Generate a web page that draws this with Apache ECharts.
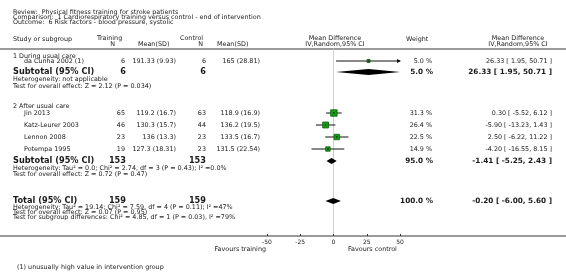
<!DOCTYPE html>
<html>
<head>
<meta charset="utf-8">
<script src="https://cdn.jsdelivr.net/npm/echarts/dist/echarts.min.js"></script>
<style>
  html, body { margin: 0; padding: 0; background: #fff; }
  #main { width: 566px; height: 272px; }
</style>
</head>
<body>
<div id="main"></div>
<script>
// study data
const studies   = ['da Cunha 2002 (1)', 'Jin 2013', 'Katz-Leurer 2003', 'Lennon 2008', 'Potempa 1995'];
const trainN    = [6, 65, 46, 23, 19];
const trainMean = ['191.33 (9.93)', '119.2 (16.7)', '130.3 (15.7)', '136 (13.3)', '127.3 (18.31)'];
const ctrlN     = [6, 63, 44, 23, 23];
const ctrlMean  = ['165 (28.81)', '118.9 (16.9)', '136.2 (19.5)', '133.5 (16.7)', '131.5 (22.54)'];
const md        = [26.33, 0.30, -5.90, 2.50, -4.20];
const lo        = [1.95, -5.52, -13.23, -6.22, -16.55];
const hi        = [50.71, 6.12, 1.43, 11.22, 8.15];
const weight    = [5.0, 31.3, 26.4, 22.5, 14.9];

// pooled estimates: subgroup 1, subgroup 2, total
const poolLabel  = ['Subtotal (95% CI)', 'Subtotal (95% CI)', 'Total (95% CI)'];
const poolTrainN = [6, 153, 159];
const poolCtrlN  = [6, 153, 159];
const poolMd     = [26.33, -1.41, -0.20];
const poolLo     = [1.95, -5.25, -6.00];
const poolHi     = [50.71, 2.43, 5.60];
const poolWeight = [5.0, 95.0, 100.0];

const xTicks = [-50, -25, 0, 25, 50];

// layout: row positions (pixels down the page)
const studyRow = [61, 113, 125, 137, 149];
const poolRow  = [72, 161, 201];

const FONT = '"DejaVu Sans", Verdana, sans-serif';
const SMALL = '6.4px ' + FONT;
const BOLD = 'bold 8.2px ' + FONT;
const BOLDNUM = 'bold 7.3px ' + FONT;
const INK = '#1a1a1a';

function txt(s, x, y, align, font) {
  return { type: 'text', silent: true, style: { text: s, x: x, y: y, fill: INK,
    font: font || SMALL, align: align || 'left', verticalAlign: 'middle' } };
}
function fmt(v) { return v.toFixed(2); }
function ciText(m, l, h) { return fmt(m) + ' [ ' + fmt(l) + ', ' + fmt(h) + ' ]'; }

const g = [];
// full width rules
g.push({ type: 'rect', silent: true, shape: { x: 0, y: 48, width: 566, height: 2 }, style: { fill: '#9a9a9a' } });
g.push({ type: 'rect', silent: true, shape: { x: 0, y: 235, width: 566, height: 2 }, style: { fill: '#9a9a9a' } });

g.push(txt('Review:  Physical fitness training for stroke patients', 13, 12));
g.push(txt('Comparison:  1 Cardiorespiratory training versus control - end of intervention', 13, 17));
g.push(txt('Outcome:  6 Risk factors - blood pressure, systolic', 13, 22));

g.push(txt('Study or subgroup', 13, 39));
g.push(txt('Training', 97, 38));
g.push(txt('N', 115, 44, 'right'));
g.push(txt('Mean(SD)', 138, 44));
g.push(txt('Control', 180, 38));
g.push(txt('N', 203, 44, 'right'));
g.push(txt('Mean(SD)', 217, 44));
g.push(txt('Mean Difference', 335, 38, 'center'));
g.push(txt('IV,Random,95% CI', 335, 44, 'center'));
g.push(txt('Weight', 406, 39));
g.push(txt('Mean Difference', 518, 38, 'center'));
g.push(txt('IV,Random,95% CI', 518, 44, 'center'));

g.push(txt('1 During usual care', 13, 56));
g.push(txt('2 After usual care', 13, 106));

studies.forEach(function (s, i) {
  const y = studyRow[i];
  g.push(txt(s, 24, y));
  g.push(txt(String(trainN[i]), 125, y, 'right'));
  g.push(txt(trainMean[i], 176, y, 'right'));
  g.push(txt(String(ctrlN[i]), 206, y, 'right'));
  g.push(txt(ctrlMean[i], 260, y, 'right'));
  g.push(txt(weight[i].toFixed(1) + ' %', 432, y, 'right'));
  g.push(txt(ciText(md[i], lo[i], hi[i]), 552, y, 'right'));
});

poolLabel.forEach(function (s, i) {
  const y = poolRow[i];
  g.push(txt(s, 13, y, 'left', BOLD));
  g.push(txt(String(poolTrainN[i]), 126, y, 'right', BOLD));
  g.push(txt(String(poolCtrlN[i]), 206, y, 'right', BOLD));
  g.push(txt(poolWeight[i].toFixed(1) + ' %', 433, y, 'right', BOLDNUM));
  g.push(txt(ciText(poolMd[i], poolLo[i], poolHi[i]), 552, y, 'right', BOLDNUM));
});

g.push(txt('Heterogeneity: not applicable', 13, 79));
g.push(txt('Test for overall effect: Z = 2.12 (P = 0.034)', 13, 86));
g.push(txt('Heterogeneity: Tau\u00b2 = 0.0; Chi\u00b2 = 2.74, df = 3 (P = 0.43); I\u00b2 =0.0%', 13, 168));
g.push(txt('Test for overall effect: Z = 0.72 (P = 0.47)', 13, 174));
g.push(txt('Heterogeneity: Tau\u00b2 = 19.14; Chi\u00b2 = 7.59, df = 4 (P = 0.11); I\u00b2 =47%', 13, 207));
g.push(txt('Test for overall effect: Z = 0.07 (P = 0.95)', 13, 212));
g.push(txt('Test for subgroup differences: Chi\u00b2 = 4.85, df = 1 (P = 0.03), I\u00b2 =79%', 13, 217));

g.push(txt('Favours training', 266, 249, 'right'));
g.push(txt('Favours control', 348, 249));
g.push(txt('(1) unusually high value in intervention group', 17, 267));

const XMIN = xTicks[0], XMAX = xTicks[xTicks.length - 1];

const ciData = studies.map(function (s, i) { return [lo[i], hi[i], studyRow[i]]; });
const sqData = studies.map(function (s, i) { return [md[i], studyRow[i], weight[i]]; });
const dmData = poolLabel.map(function (s, i) { return [poolMd[i], poolLo[i], poolHi[i], poolRow[i]]; });

const chart = echarts.init(document.getElementById('main'));
chart.setOption({
  animation: false,
  graphic: g,
  grid: { left: 267, width: 133, top: 49, height: 187 },
  xAxis: {
    type: 'value', min: XMIN, max: XMAX, interval: 25,
    axisLine: { show: false },
    axisTick: { show: true, inside: true, length: 2, lineStyle: { color: '#333' } },
    axisLabel: { fontSize: 6, fontFamily: FONT, color: INK, margin: 3 },
    splitLine: { show: false }
  },
  yAxis: {
    type: 'value', min: 49, max: 236, inverse: true,
    axisLine: { show: true, onZero: true, lineStyle: { color: '#cfcfcf', width: 1 } },
    axisTick: { show: false }, axisLabel: { show: false }, splitLine: { show: false }
  },
  series: [
    {
      type: 'custom', silent: true, clip: false,
      renderItem: function (params, api) {
        const l = Math.max(api.value(0), XMIN), hv = api.value(1), y = api.value(2);
        const h = Math.min(hv, XMAX);
        const p1 = api.coord([l, y]), p2 = api.coord([h, y]);
        const kids = [{ type: 'line', shape: { x1: p1[0], y1: p1[1], x2: p2[0], y2: p2[1] },
          style: { stroke: '#111', lineWidth: 1 } }];
        if (hv > XMAX) {
          kids.push({ type: 'polygon', shape: { points: [[p2[0] + 1, p2[1]], [p2[0] - 3, p2[1] - 2], [p2[0] - 3, p2[1] + 2]] },
            style: { fill: '#111' } });
        }
        return { type: 'group', children: kids };
      },
      data: ciData, z: 2
    },
    {
      type: 'scatter', silent: true,
      symbol: 'rect',
      symbolSize: function (v) { return Math.max(3, Math.sqrt(v[2]) * 1.15); },
      itemStyle: { color: '#12a012', borderColor: '#0a5a0a', borderWidth: 0.8, opacity: 1 },
      data: sqData, z: 3
    },
    {
      type: 'scatter', silent: true, symbol: 'rect', symbolSize: 1.5,
      itemStyle: { color: '#111' },
      data: sqData.map(function (d) { return [d[0], d[1]]; }), z: 4
    },
    {
      type: 'custom', silent: true, clip: false,
      renderItem: function (params, api) {
        const m = api.value(0), l = api.value(1), h = Math.min(api.value(2), XMAX), y = api.value(3);
        const pm = api.coord([m, y]), pl = api.coord([l, y]), ph = api.coord([h, y]);
        return { type: 'polygon', shape: { points: [[pl[0], pl[1]], [pm[0], pm[1] - 3], [ph[0], ph[1]], [pm[0], pm[1] + 3]] },
          style: { fill: '#000' } };
      },
      data: dmData, z: 3
    }
  ]
});
</script>
</body>
</html>
